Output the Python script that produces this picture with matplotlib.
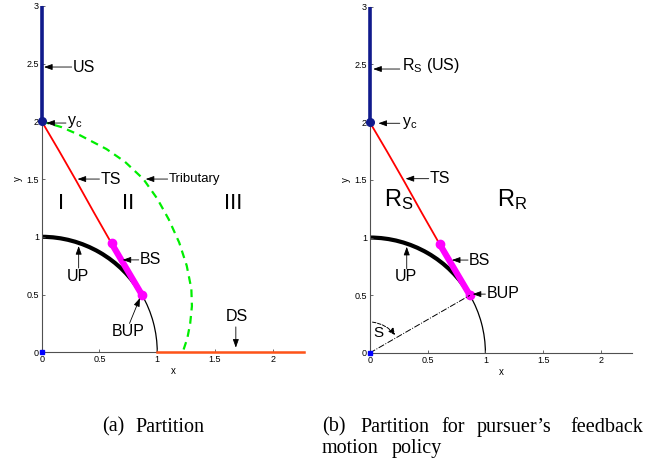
import matplotlib
matplotlib.use('Agg')
import matplotlib.pyplot as plt
from matplotlib.patches import Arc, FancyArrowPatch

plt.rcParams['font.family'] = ['Liberation Sans', 'DejaVu Sans']
plt.rcParams['mathtext.default'] = 'regular'

# curves
us_x = [0, 0]
us_y = [2, 3]
ts_x = [0, 0.15, 0.30, 0.45, 0.605]
ts_y = [2.0, 1.745, 1.483, 1.214, 0.942]
bs_x = [0.605, 0.866]
bs_y = [0.942, 0.5]
trib_x = [0, 0.17, 0.33, 0.56, 0.72, 0.88, 1.00, 1.10, 1.19, 1.255, 1.295, 1.30, 1.285, 1.26, 1.22]
trib_y = [2.0, 1.95, 1.88, 1.76, 1.65, 1.50, 1.33, 1.15, 0.95, 0.75, 0.55, 0.40, 0.25, 0.12, 0.0]
ds_x = [1, 2.27]
ds_y = [0, 0]
yc = (0, 2)
bup = (0.866, 0.5)

xticks = [0, 0.5, 1, 1.5, 2]
xtick_labels = ['0', '0.5', '1', '1.5', '2']
yticks = [0, 0.5, 1, 1.5, 2, 2.5, 3]
ytick_labels = ['0', '0.5', '1', '1.5', '2', '2.5', '3']

fig = plt.figure(figsize=(6.67, 4.61), dpi=100)
ax1 = fig.add_axes([0.0625, 0.2358, 0.3933, 0.7516])
ax2 = fig.add_axes([0.5543, 0.2343, 0.3937, 0.7512])


def arrow(ax, tail, head):
    ax.annotate('', xy=head, xytext=tail,
                arrowprops=dict(arrowstyle='-|>,head_length=0.5,head_width=0.18',
                                color='k', lw=0.6, shrinkA=0, shrinkB=0))


def base(ax):
    ax.set_xlim(0, 2.27)
    ax.set_ylim(0, 3)
    for s in ['top', 'right']:
        ax.spines[s].set_visible(False)
    for s in ['left', 'bottom']:
        ax.spines[s].set_color('#505050')
        ax.spines[s].set_linewidth(0.8)
    ax.set_xticks(xticks)
    ax.set_xticklabels(xtick_labels)
    ax.set_yticks(yticks)
    ax.set_yticklabels(ytick_labels)
    ax.tick_params(direction='in', length=2.5, width=0.6, color='#505050',
                   labelsize=6.5, pad=2)
    ax.set_xlabel('x', fontsize=7)
    ax.set_ylabel('y', fontsize=7)
    ax.xaxis.set_label_coords(0.5, -0.04)
    ax.yaxis.set_label_coords(-0.07, 0.5)

    # unit circle: thin part and thick UP part
    ax.add_patch(Arc((0, 0), 2, 2, theta1=0, theta2=30, color='k', lw=0.9))
    ax.add_patch(Arc((0, 0), 2, 2, theta1=30, theta2=90, color='k', lw=3))
    ax.plot(us_x, us_y, color='#101a8c', lw=2.6, solid_capstyle='butt',
            clip_on=False, zorder=4)
    ax.plot(ts_x, ts_y, color='#ff0000', lw=1.3)
    ax.plot(bs_x, bs_y, color='#ff00ff', lw=4.5, marker='o', ms=6,
            solid_capstyle='round')
    ax.plot(*yc, 'o', color='#101a8c', ms=5.5, clip_on=False, zorder=5)
    ax.plot(0, 0, 's', color='#0000ff', ms=3.5, clip_on=False, zorder=5)


base(ax1)
base(ax2)

# ---- panel (a)
ax1.plot(trib_x, trib_y, color='#00ee00', lw=1.6, ls=(0, (3.5, 2.5)))
ax1.plot(ds_x, ds_y, color='#ff5319', lw=1.8, clip_on=False, zorder=4)

arrow(ax1, (0.26, 2.47), (0.02, 2.47))
ax1.text(0.27, 2.47, 'US', fontsize=11.5, va='center')
arrow(ax1, (0.21, 1.985), (0.04, 1.985))
ax1.text(0.22, 1.99, '$y_c$', fontsize=11.5, va='center')
arrow(ax1, (0.50, 1.50), (0.31, 1.50))
ax1.text(0.51, 1.50, 'TS', fontsize=11.5, va='center')
arrow(ax1, (1.09, 1.50), (0.90, 1.50))
ax1.text(1.10, 1.50, 'Tributary', fontsize=9.5, va='center')
ax1.text(0.17, 1.29, 'I', fontsize=16, ha='center', va='center')
ax1.text(0.75, 1.29, 'II', fontsize=16, ha='center', va='center')
ax1.text(1.66, 1.29, 'III', fontsize=16, ha='center', va='center')
arrow(ax1, (0.84, 0.80), (0.70, 0.80))
ax1.text(0.85, 0.80, 'BS', fontsize=11.5, va='center')
arrow(ax1, (0.32, 0.73), (0.32, 0.92))
ax1.text(0.31, 0.66, 'UP', fontsize=11.5, ha='center', va='center')
arrow(ax1, (0.76, 0.25), (0.85, 0.47))
ax1.text(0.75, 0.18, 'BUP', fontsize=11.5, ha='center', va='center')
arrow(ax1, (1.68, 0.22), (1.68, 0.04))
ax1.text(1.685, 0.31, 'DS', fontsize=11.5, ha='center', va='center')

# ---- panel (b)
ax2.plot([0, bup[0]], [0, bup[1]], color='k', lw=0.7, ls='-.')
ax2.add_patch(FancyArrowPatch((0, 0.27), (0.234, 0.135),
                              connectionstyle='arc3,rad=-0.24',
                              arrowstyle='-|>,head_length=4,head_width=1.8',
                              color='k', lw=0.7, ls='--'))
ax2.text(0.075, 0.17, 'S', fontsize=11, ha='center', va='center')

arrow(ax2, (0.26, 2.46), (0.03, 2.46))
ax2.text(0.28, 2.49, '$R_S$ (US)', fontsize=11.5, va='center')
arrow(ax2, (0.26, 1.99), (0.075, 1.99))
ax2.text(0.28, 1.99, '$y_c$', fontsize=11.5, va='center')
arrow(ax2, (0.51, 1.51), (0.31, 1.51))
ax2.text(0.52, 1.51, 'TS', fontsize=11.5, va='center')
ax2.text(0.12, 1.27, '$R_S$', fontsize=17, va='baseline')
ax2.text(1.10, 1.27, '$R_R$', fontsize=17, va='baseline')
arrow(ax2, (0.85, 0.805), (0.71, 0.805))
ax2.text(0.86, 0.805, 'BS', fontsize=11.5, va='center')
arrow(ax2, (0.32, 0.73), (0.32, 0.92))
ax2.text(0.31, 0.66, 'UP', fontsize=11.5, ha='center', va='center')
arrow(ax2, (1.0, 0.51), (0.89, 0.51))
ax2.text(1.01, 0.515, 'BUP', fontsize=11.5, va='center')

# captions (justified words placed one by one)
cap = dict(fontsize=14.5, family=['Liberation Serif', 'DejaVu Serif'], va='baseline')
for word, x in [('(a)', 0.1525), ('Partition', 0.2024)]:
    fig.text(x, 0.0636, word, **cap)
for word, x in [('(b)', 0.4823), ('Partition', 0.5397), ('for', 0.6622),
                ('pursuer\u2019s', 0.7147), ('feedback', 0.8546)]:
    fig.text(x, 0.0636, word, **cap)
for word, x in [('motion', 0.4823), ('policy', 0.5873)]:
    fig.text(x, 0.0167, word, **cap)

fig.savefig('out.png', dpi=100)
